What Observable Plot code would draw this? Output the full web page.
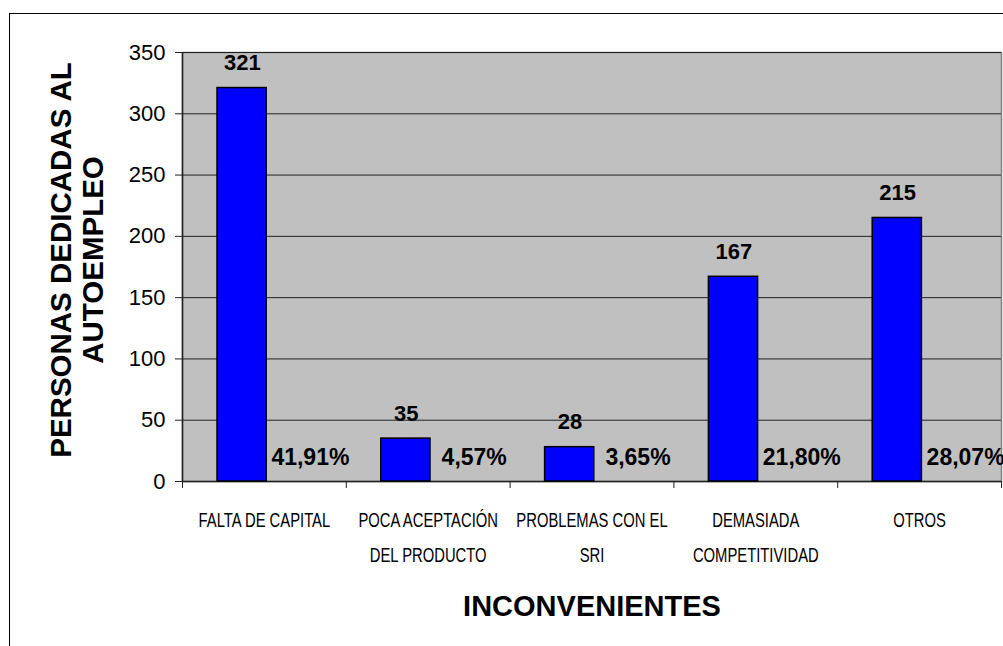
<!DOCTYPE html>
<html>
<head>
<meta charset="utf-8">
<script src="https://cdn.jsdelivr.net/npm/d3@7"></script>
<script src="https://cdn.jsdelivr.net/npm/@observablehq/plot@0.6"></script>
<style>
  html, body { margin: 0; padding: 0; background: #fff; overflow: hidden; }
  #wrap { position: relative; width: 1003px; height: 646px; }
  #border { position: absolute; left: 9px; top: 13px; width: 1200px; height: 1000px; border: 1px solid #000; box-sizing: border-box; }
  #chart { position: absolute; left: 0; top: 0; }
</style>
</head>
<body>
<div id="wrap"><div id="border"></div><div id="chart"></div></div>
<script>
const categories = ["FALTA DE CAPITAL", "POCA ACEPTACIÓN DEL PRODUCTO", "PROBLEMAS CON EL SRI", "DEMASIADA COMPETITIVIDAD", "OTROS"];
const tickLabels = ["FALTA DE CAPITAL", "POCA ACEPTACIÓN\nDEL PRODUCTO", "PROBLEMAS CON EL\nSRI", "DEMASIADA\nCOMPETITIVIDAD", "OTROS"];
const values = [321, 35, 28, 167, 215];
const percents = ["41,91%", "4,57%", "3,65%", "21,80%", "28,07%"];
const yTicks = [0, 50, 100, 150, 200, 250, 300, 350];
const boundaries = [0, 1, 2, 3, 4, 5];
const yTitle = "PERSONAS DEDICADAS AL\nAUTOEMPLEO";
const xTitle = "INCONVENIENTES";

const idx = categories.map((d, i) => i);
const font = "'Liberation Sans', Arial, sans-serif";

// squeeze tick-label glyphs horizontally to mimic a narrow typeface
function narrowRender(index, scales, values, dimensions, context, next) {
  const g = next(index, scales, values, dimensions, context);
  g.querySelectorAll("text").forEach(t => {
    const tr = t.getAttribute("transform") || "";
    t.setAttribute("transform", tr + " scale(0.76,1)");
  });
  return g;
}

const chart = Plot.plot({
  width: 1003,
  height: 646,
  marginLeft: 182,
  marginRight: 2,
  marginTop: 52,
  marginBottom: 165,
  style: {background: "transparent", fontFamily: font, color: "#000"},
  x: {domain: [0, 5], axis: null},
  y: {domain: [0, 350], axis: null},
  marks: [
    Plot.frame({fill: "#C0C0C0", stroke: "#808080", strokeWidth: 1.5}),
    Plot.gridY(yTicks, {stroke: "#222", strokeOpacity: 1, strokeWidth: 1}),
    Plot.ruleX([0], {stroke: "#222", strokeWidth: 1.5}),
    Plot.ruleY([0], {stroke: "#222", strokeWidth: 1.5}),
    Plot.axisY({ticks: yTicks, tickSize: 7, tickPadding: 10, fontSize: 22, stroke: "#222", fill: "#000", label: null}),
    Plot.axisX({ticks: boundaries, tickSize: 7, tickFormat: () => "", stroke: "#222", label: null}),
    Plot.rectY(idx, {
      x1: i => i, x2: i => i + 1, y1: 0, y2: i => values[i],
      insetLeft: 35, insetRight: 79.6,
      fill: "#0000FF", stroke: "#000", strokeWidth: 1.5
    }),
    Plot.text(idx, {
      x: i => i + 0.5, y: i => values[i], text: i => String(values[i]),
      dx: -22, dy: -25, fontSize: 22, fontWeight: "bold", fill: "#000"
    }),
    Plot.text(idx, {
      x: i => i + 0.5, y: 0, text: i => percents[i],
      dx: 46, dy: -24, fontSize: 23, fontWeight: "bold", fill: "#000"
    }),
    Plot.text(idx, {
      x: i => i + 0.5, y: 0, text: i => tickLabels[i],
      dy: 20.5, lineAnchor: "top", lineHeight: 1.8,
      fontSize: 19.5, fill: "#000",
      render: narrowRender
    }),
    Plot.text([yTitle], {
      frameAnchor: "left", textAnchor: "middle", rotate: -90, dx: -106, dy: -7,
      lineAnchor: "middle", lineHeight: 1.1,
      fontSize: 29.5, fontWeight: "bold", fill: "#000"
    }),
    Plot.text([xTitle], {
      frameAnchor: "bottom", lineAnchor: "middle", dy: 125,
      fontSize: 29, fontWeight: "bold", fill: "#000"
    })
  ]
});
document.getElementById("chart").appendChild(chart);
</script>
</body>
</html>
